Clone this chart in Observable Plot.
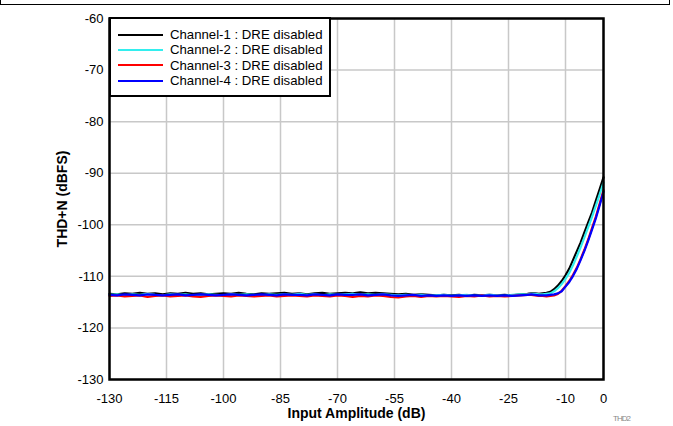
<!DOCTYPE html>
<html><head><meta charset="utf-8">
<script src="https://cdn.jsdelivr.net/npm/d3@7"></script>
<script src="https://cdn.jsdelivr.net/npm/@observablehq/plot@0.6"></script>
<style>
body{margin:0;background:#fff;font-family:"Liberation Sans",Arial,sans-serif;}
#wrap{position:relative;width:673px;height:426px;overflow:hidden;}
#topframe{position:absolute;left:0;top:0;width:670px;height:5px;border:1.5px solid #000;border-top:none;box-sizing:border-box;}
#legend{position:absolute;left:109px;top:17px;width:222px;height:80px;border:2px solid #000;background:#fff;box-sizing:border-box;font-size:13.2px;padding-top:8px;}
#legend .row{display:flex;align-items:center;height:15.3px;}
#legend .sw{width:45px;height:0;border-top:2px solid;margin-left:7px;margin-right:7px;}
#tag{position:absolute;left:613px;top:414px;font-size:8px;color:#888;letter-spacing:-1px;}
#chart svg{font-family:"Liberation Sans",Arial,sans-serif;}
#chart g[aria-label="x-axis label"] text, #chart g[aria-label="y-axis label"] text{font-weight:bold;font-size:14px;}
</style></head>
<body>
<div id="wrap"><div id="chart"></div><div id="topframe"></div><div id="legend"></div><div id="tag">THD2</div></div>
<script>
const xs = [-130,-128,-126,-124,-122,-120,-118,-116,-114,-112,-110,-108,-106,-104,-102,-100,-98,-96,-94,-92,-90,-88,-86,-84,-82,-80,-78,-76,-74,-72,-70,-68,-66,-64,-62,-60,-58,-56,-54,-52,-50,-48,-46,-44,-42,-40,-38,-36,-34,-32,-30,-28,-26,-24,-22,-20,
  -19,-18,-17,-16,-15,-14,-13,-12,-11,-10,-9,-8,-7,-6,-5,-4,-3,-2,-1,0];

const ch1 = [-113.4,-113.5,-113.3,-113.4,-113.2,-113.4,-113.3,-113.5,-113.3,-113.4,-113.2,-113.4,-113.3,-113.5,-113.4,-113.3,-113.4,-113.2,-113.4,-113.5,-113.3,-113.4,-113.3,-113.2,-113.4,-113.3,-113.5,-113.3,-113.2,-113.4,-113.3,-113.2,-113.3,-113.1,-113.3,-113.2,-113.3,-113.4,-113.5,-113.4,-113.6,-113.5,-113.6,-113.7,-113.6,-113.7,-113.6,-113.8,-113.6,-113.7,-113.6,-113.7,-113.6,-113.7,-113.5,-113.4,
  -113.3,-113.3,-113.4,-113.3,-113.2,-113.0,-112.5,-111.8,-110.9,-109.8,-108.5,-106.8,-105.1,-103.4,-101.4,-99.5,-97.6,-95.3,-93.1,-90.8];

const ch2 = [-113.6,-113.5,-113.7,-113.5,-113.6,-113.4,-113.6,-113.7,-113.5,-113.6,-113.5,-113.7,-113.6,-113.5,-113.6,-113.7,-113.5,-113.6,-113.5,-113.6,-113.7,-113.5,-113.6,-113.5,-113.6,-113.4,-113.6,-113.5,-113.7,-113.5,-113.6,-113.5,-113.4,-113.6,-113.5,-113.6,-113.5,-113.6,-113.7,-113.6,-113.7,-113.6,-113.8,-113.7,-113.6,-113.8,-113.7,-113.6,-113.8,-113.7,-113.6,-113.7,-113.8,-113.6,-113.5,-113.5,
  -113.4,-113.4,-113.5,-113.5,-113.4,-113.3,-112.9,-112.3,-111.5,-110.5,-109.3,-107.8,-106.1,-104.3,-102.4,-100.4,-98.4,-96.3,-94.1,-91.8];

const ch3 = [-113.8,-113.7,-113.9,-113.8,-113.7,-114.0,-113.8,-113.7,-113.9,-113.8,-113.7,-113.9,-114.0,-113.8,-113.7,-113.8,-113.9,-113.7,-113.8,-113.9,-113.8,-113.7,-113.9,-113.8,-113.7,-113.8,-113.9,-113.7,-113.8,-113.9,-113.7,-113.8,-114.0,-113.8,-113.9,-113.7,-113.8,-114.0,-114.1,-113.9,-113.8,-114.0,-113.8,-113.9,-113.8,-113.9,-114.0,-113.8,-113.9,-113.7,-113.9,-113.8,-113.9,-113.8,-113.7,-113.6,
  -113.6,-113.7,-113.8,-113.8,-113.9,-113.8,-113.7,-113.4,-112.8,-111.9,-110.9,-109.7,-108.3,-106.6,-104.8,-102.8,-100.6,-98.4,-95.9,-93.3];

const ch4 = [-113.6,-113.7,-113.5,-113.6,-113.7,-113.5,-113.6,-113.7,-113.6,-113.5,-113.7,-113.6,-113.5,-113.6,-113.7,-113.6,-113.5,-113.6,-113.7,-113.6,-113.5,-113.6,-113.7,-113.5,-113.6,-113.6,-113.7,-113.5,-113.6,-113.7,-113.5,-113.6,-113.6,-113.5,-113.7,-113.6,-113.5,-113.7,-113.8,-113.7,-113.6,-113.8,-113.7,-113.8,-113.7,-113.8,-113.7,-113.8,-113.7,-113.8,-113.7,-113.8,-113.7,-113.8,-113.7,-113.6,
  -113.5,-113.6,-113.7,-113.7,-113.7,-113.6,-113.5,-113.3,-112.9,-112.0,-111.1,-109.9,-108.5,-106.8,-105.0,-103.0,-100.9,-98.7,-96.2,-93.6];

const seriesNames = ["Channel-1 : DRE disabled","Channel-2 : DRE disabled","Channel-3 : DRE disabled","Channel-4 : DRE disabled"];
const seriesColors = ["#000000","#33eeee","#ff0000","#0000ff"];
const seriesValues = [ch1, ch2, ch3, ch4];

const xTicks = [-130,-115,-100,-85,-70,-55,-40,-25,-10,0];
const yTicks = [-130,-120,-110,-100,-90,-80,-70,-60];

const rows = [];
seriesValues.forEach((vals, i) => vals.forEach((v, j) => rows.push({x: xs[j], y: v, s: seriesNames[i]})));

const chart = Plot.plot({
  width: 673, height: 426,
  marginLeft: 109, marginRight: 70, marginTop: 18, marginBottom: 47,
  style: {fontSize: "13px", fontFamily: "Liberation Sans, Arial, sans-serif", color: "#000"},
  x: {domain: [-130, 0]},
  y: {domain: [-130, -60]},
  color: {domain: seriesNames, range: seriesColors},
  marks: [
    Plot.gridX(xTicks, {stroke: "#c8c8c8", strokeOpacity: 1, strokeWidth: 1.5}),
    Plot.gridY(yTicks, {stroke: "#c8c8c8", strokeOpacity: 1, strokeWidth: 1.5}),
    Plot.axisX(xTicks, {tickSize: 0, tickPadding: 14, label: "Input Amplitude (dB)", labelAnchor: "center", labelArrow: "none", labelOffset: 38, tickFormat: d => String(d)}),
    Plot.axisY(yTicks, {tickSize: 0, tickPadding: 6, label: "THD+N (dBFS)", labelAnchor: "center", labelArrow: "none", labelOffset: 52, tickFormat: d => String(d)}),
    Plot.line(rows, {x: "x", y: "y", z: "s", stroke: "s", strokeWidth: 2.2}),
    Plot.frame({stroke: "#000", strokeWidth: 2.5})
  ]
});
document.getElementById("chart").appendChild(chart);

const leg = document.getElementById("legend");
seriesNames.forEach((n, i) => {
  const r = document.createElement("div"); r.className = "row";
  const sw = document.createElement("div"); sw.className = "sw"; sw.style.borderTopColor = seriesColors[i];
  const t = document.createElement("span"); t.textContent = n;
  r.appendChild(sw); r.appendChild(t); leg.appendChild(r);
});
</script>
</body></html>
